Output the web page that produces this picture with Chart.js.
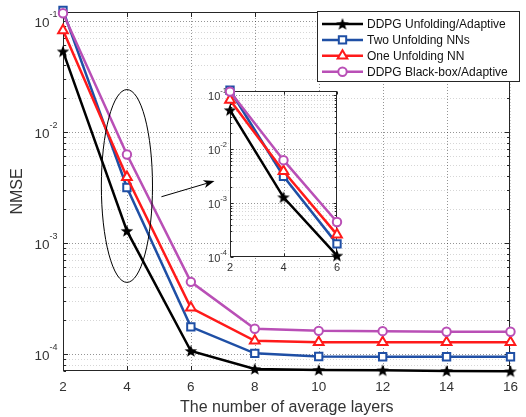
<!DOCTYPE html>
<html>
<head>
<meta charset="utf-8">
<script src="https://cdn.jsdelivr.net/npm/chart.js@4.4.1/dist/chart.umd.min.js"></script>
<style>
html,body{margin:0;padding:0;background:#fff;}
#wrap{position:relative;width:526px;height:417px;overflow:hidden;}
#main{position:absolute;left:0;top:0;}
#inset{position:absolute;left:180px;top:80px;}
</style>
</head>
<body>
<div id="wrap">
<canvas id="main" width="526" height="417"></canvas>
<canvas id="inset" width="165" height="200"></canvas>
</div>
<script>
// ---------------- data ----------------
const layers = [2, 4, 6, 8, 10, 12, 14, 16];
const ddpgUnfolding = [0.053, 1.28e-3, 1.06e-4, 7.3e-5, 7.15e-5, 7.1e-5, 7.0e-5, 6.95e-5];
const twoUnfolding  = [0.124, 3.15e-3, 1.75e-4, 1.01e-4, 9.45e-5, 9.4e-5, 9.4e-5, 9.4e-5];
const oneUnfolding  = [0.082, 3.9e-3, 2.6e-4, 1.31e-4, 1.27e-4, 1.27e-4, 1.27e-4, 1.27e-4];
const ddpgBlackbox  = [0.117, 6.25e-3, 4.45e-4, 1.68e-4, 1.61e-4, 1.6e-4, 1.58e-4, 1.58e-4];
const seriesNames = ['DDPG Unfolding/Adaptive', 'Two Unfolding NNs', 'One Unfolding NN', 'DDPG Black-box/Adaptive'];
const xTicks = [2, 4, 6, 8, 10, 12, 14, 16];
const yDecades = [-4, -3, -2, -1];
const insetLayers = [2, 4, 6];
const insetXTicks = [2, 4, 6];
const insetYDecades = [-4, -3, -2, -1];
const xLabel = 'The number of average layers';
const yLabel = 'NMSE';

// annotation (in data units of the main axes)
const ellipseSpec = {x: 4, xHalf: 0.8, yTop: 0.024, yBottom: 4.4e-4};
const arrowSpec = {x0: 5.08, y0: 2.6e-3, x1: 6.74, y1: 3.6e-3};

// ---------------- styles ----------------
const FONT = '"Liberation Sans", Arial, Helvetica, sans-serif';
Chart.defaults.font.family = FONT;
const COLORS = ['#000000', '#1f4fa5', '#ff1a1a', '#b94fb6'];
const AXIS = '#262626';
const TXT = '#333333';

function makeStar(R) {
  const s = Math.ceil(R * 2 + 2);
  const c = document.createElement('canvas');
  c.width = s; c.height = s;
  const g = c.getContext('2d');
  g.beginPath();
  const r = R * 0.42;
  for (let i = 0; i < 10; i++) {
    const a = -Math.PI / 2 + i * Math.PI / 5;
    const rr = (i % 2) ? r : R;
    g.lineTo(s / 2 + rr * Math.cos(a), s / 2 + rr * Math.sin(a) + 0.5);
  }
  g.closePath();
  g.fillStyle = '#000';
  g.fill();
  return c;
}
const starImg = makeStar(6.6);
const STYLES = [starImg, 'rect', 'triangle', 'circle'];
const RADII = [6, 5.2, 5.6, 4.2];
const ALL = [ddpgUnfolding, twoUnfolding, oneUnfolding, ddpgBlackbox];

function makeDatasets(xs) {
  return ALL.map((arr, i) => ({
    label: seriesNames[i],
    data: xs.map((x, j) => ({x: x, y: arr[j]})),
    borderColor: COLORS[i],
    backgroundColor: '#fff',
    borderWidth: 2.5,
    pointStyle: STYLES[i],
    pointRadius: RADII[i],
    pointBorderWidth: 2,
    pointBorderColor: COLORS[i],
    pointBackgroundColor: '#fff',
    tension: 0,
    clip: false,
    order: 3 - i
  }));
}

// ---------------- helpers ----------------
function drawGrid(chart, xt) {
  const {ctx, chartArea: a, scales: {x, y}} = chart;
  ctx.save();
  ctx.beginPath();
  ctx.rect(a.left, a.top, a.right - a.left, a.bottom - a.top);
  ctx.clip();
  ctx.lineWidth = 1;
  ctx.setLineDash([1, 2]);
  const lo = Math.floor(Math.log10(y.min)), hi = Math.ceil(Math.log10(y.max));
  // minor
  ctx.strokeStyle = 'rgba(0,0,0,0.16)';
  ctx.beginPath();
  for (let d = lo; d <= hi; d++) {
    for (let m = 2; m <= 9; m++) {
      const v = m * Math.pow(10, d);
      if (v < y.min || v > y.max) continue;
      const py = Math.round(y.getPixelForValue(v)) + 0.5;
      ctx.moveTo(a.left, py); ctx.lineTo(a.right, py);
    }
  }
  ctx.stroke();
  // major
  ctx.strokeStyle = 'rgba(0,0,0,0.42)';
  ctx.beginPath();
  for (let d = lo; d <= hi; d++) {
    const v = Math.pow(10, d);
    if (v < y.min || v > y.max) continue;
    const py = Math.round(y.getPixelForValue(v)) + 0.5;
    ctx.moveTo(a.left, py); ctx.lineTo(a.right, py);
  }
  xt.forEach(v => {
    const px = Math.round(x.getPixelForValue(v)) + 0.5;
    ctx.moveTo(px, a.top); ctx.lineTo(px, a.bottom);
  });
  ctx.stroke();
  ctx.restore();
}

function drawFrame(chart, xt, majLen, minLen) {
  const {ctx, chartArea: a, scales: {x, y}} = chart;
  ctx.save();
  ctx.setLineDash([]);
  ctx.strokeStyle = AXIS;
  ctx.lineWidth = 1;
  const L = Math.round(a.left) + 0.5, R = Math.round(a.right) - 0.5;
  const T = Math.round(a.top) + 0.5, B = Math.round(a.bottom) - 0.5;
  ctx.strokeRect(L, T, R - L, B - T);
  ctx.beginPath();
  xt.forEach(v => {
    const px = Math.round(x.getPixelForValue(v)) + 0.5;
    ctx.moveTo(px, B); ctx.lineTo(px, B - majLen);
    ctx.moveTo(px, T); ctx.lineTo(px, T + majLen);
  });
  const lo = Math.floor(Math.log10(y.min)), hi = Math.ceil(Math.log10(y.max));
  for (let d = lo; d <= hi; d++) {
    for (let m = 1; m <= 9; m++) {
      const v = m * Math.pow(10, d);
      if (v < y.min || v > y.max) continue;
      const len = m === 1 ? majLen : minLen;
      const py = Math.round(y.getPixelForValue(v)) + 0.5;
      ctx.moveTo(L, py); ctx.lineTo(L + len, py);
      ctx.moveTo(R, py); ctx.lineTo(R - len, py);
    }
  }
  ctx.stroke();
  ctx.restore();
}

function drawPowLabels(chart, decades, xr, baseSize, expSize, baseDy, expDy) {
  const {ctx, scales: {y}} = chart;
  ctx.save();
  ctx.fillStyle = TXT;
  ctx.textBaseline = 'middle';
  ctx.textAlign = 'left';
  decades.forEach(d => {
    const py = y.getPixelForValue(Math.pow(10, d));
    const e = String(d);
    ctx.font = expSize + 'px ' + FONT;
    const ew = ctx.measureText(e).width;
    ctx.font = baseSize + 'px ' + FONT;
    const bw = ctx.measureText('10').width;
    ctx.fillText('10', xr - ew - bw, py + baseDy);
    ctx.font = expSize + 'px ' + FONT;
    ctx.fillText(e, xr - ew, py + expDy);
  });
  ctx.restore();
}

function drawMarker(ctx, style, px, py, r, color) {
  ctx.save();
  if (typeof style !== 'string') {
    ctx.drawImage(style, px - style.width / 2, py - style.height / 2);
    ctx.restore();
    return;
  }
  ctx.lineWidth = 2;
  ctx.strokeStyle = color;
  ctx.fillStyle = '#fff';
  ctx.beginPath();
  if (style === 'rect') {
    const s = r * Math.SQRT1_2;
    ctx.rect(px - s, py - s, 2 * s, 2 * s);
  } else if (style === 'triangle') {
    for (let k = 0; k < 3; k++) {
      const ang = k * 2 * Math.PI / 3;
      ctx.lineTo(px + Math.sin(ang) * r, py - Math.cos(ang) * r);
    }
    ctx.closePath();
  } else {
    ctx.arc(px, py, r, 0, Math.PI * 2);
  }
  ctx.fill();
  ctx.stroke();
  ctx.restore();
}

function drawLegend(chart) {
  const ctx = chart.ctx;
  ctx.save();
  const bx = 317.5, by = 11.5, bw = 202, bh = 70;
  ctx.fillStyle = '#fff';
  ctx.fillRect(bx, by, bw, bh);
  ctx.strokeStyle = AXIS;
  ctx.lineWidth = 1;
  ctx.strokeRect(bx, by, bw, bh);
  const rowY0 = 24, step = 15.9;
  seriesNames.forEach((name, i) => {
    const ry = rowY0 + i * step;
    ctx.strokeStyle = COLORS[i];
    ctx.lineWidth = 2.5;
    ctx.beginPath();
    ctx.moveTo(322, ry); ctx.lineTo(363, ry);
    ctx.stroke();
    drawMarker(ctx, STYLES[i], 342.5, ry, RADII[i], COLORS[i]);
    ctx.fillStyle = '#111';
    ctx.font = '12px ' + FONT;
    ctx.textBaseline = 'middle';
    ctx.textAlign = 'left';
    ctx.fillText(name, 367, ry + 0.5);
  });
  ctx.restore();
}

function drawAnnotations(chart) {
  const {ctx, scales: {x, y}} = chart;
  ctx.save();
  ctx.strokeStyle = '#000';
  ctx.lineWidth = 1;
  const cx = x.getPixelForValue(ellipseSpec.x);
  const rx = x.getPixelForValue(ellipseSpec.x + ellipseSpec.xHalf) - cx;
  const top = y.getPixelForValue(ellipseSpec.yTop);
  const bot = y.getPixelForValue(ellipseSpec.yBottom);
  ctx.beginPath();
  ctx.ellipse(cx, (top + bot) / 2, rx, (bot - top) / 2, 0, 0, Math.PI * 2);
  ctx.stroke();
  // arrow
  const x0 = x.getPixelForValue(arrowSpec.x0), y0 = y.getPixelForValue(arrowSpec.y0);
  const x1 = x.getPixelForValue(arrowSpec.x1), y1 = y.getPixelForValue(arrowSpec.y1);
  const ang = Math.atan2(y1 - y0, x1 - x0);
  const hl = 11, hw = 4, notch = 8;
  const ux = Math.cos(ang), uy = Math.sin(ang);
  ctx.beginPath();
  ctx.moveTo(x0, y0);
  ctx.lineTo(x1 - ux * notch, y1 - uy * notch);
  ctx.stroke();
  ctx.fillStyle = '#000';
  ctx.beginPath();
  ctx.moveTo(x1, y1);
  ctx.lineTo(x1 - ux * hl - uy * hw, y1 - uy * hl + ux * hw);
  ctx.lineTo(x1 - ux * notch, y1 - uy * notch);
  ctx.lineTo(x1 - ux * hl + uy * hw, y1 - uy * hl - ux * hw);
  ctx.closePath();
  ctx.fill();
  ctx.restore();
}

// ---------------- main chart ----------------
const mainDecor = {
  id: 'mainDecor',
  beforeDraw(chart) {
    const ctx = chart.ctx;
    ctx.save();
    ctx.fillStyle = '#fff';
    ctx.fillRect(0, 0, chart.width, chart.height);
    ctx.restore();
  },
  beforeDatasetsDraw(chart) {
    drawGrid(chart, xTicks);
    drawFrame(chart, xTicks, 4.5, 2.5);
    drawPowLabels(chart, yDecades, 57.5, 13.5, 9, 2.7, -6.3);
  },
  afterDatasetsDraw(chart) {
    drawAnnotations(chart);
    drawLegend(chart);
  }
};

new Chart(document.getElementById('main'), {
  type: 'line',
  data: {datasets: makeDatasets(layers)},
  options: {
    responsive: false,
    animation: false,
    events: [],
    layout: {padding: {left: 0, right: 8, top: 12, bottom: 0}},
    plugins: {legend: {display: false}, tooltip: {enabled: false}},
    scales: {
      x: {
        type: 'linear', min: 2, max: 16,
        afterBuildTicks: s => { s.ticks = xTicks.map(v => ({value: v})); },
        grid: {display: false, drawTicks: false},
        border: {display: false},
        ticks: {font: {size: 13.5}, color: TXT, padding: 8, maxRotation: 0, autoSkip: false},
        title: {display: true, text: xLabel, font: {size: 16, lineHeight: 1.2}, color: TXT, padding: {top: 0, bottom: 0}},
        afterFit: s => { s.height = 46; }
      },
      y: {
        type: 'logarithmic', min: 7e-5, max: 0.12,
        grid: {display: false, drawTicks: false},
        border: {display: false},
        ticks: {display: false},
        title: {display: true, text: yLabel, font: {size: 16, lineHeight: 1.2}, color: TXT, padding: {top: 8, bottom: 0}},
        afterFit: s => { s.width = 63; }
      }
    }
  },
  plugins: [mainDecor]
});

// ---------------- inset chart ----------------
const insetDecor = {
  id: 'insetDecor',
  beforeDraw(chart) {
    const {ctx, chartArea: a} = chart;
    ctx.save();
    ctx.fillStyle = '#fff';
    ctx.fillRect(a.left, a.top, a.right - a.left, a.bottom - a.top);
    ctx.restore();
  },
  beforeDatasetsDraw(chart) {
    drawGrid(chart, insetXTicks);
    drawFrame(chart, insetXTicks, 3, 1.8);
    drawPowLabels(chart, insetYDecades, 47, 11, 7.5, 1.5, -4.5);
  }
};

new Chart(document.getElementById('inset'), {
  type: 'line',
  data: {datasets: makeDatasets(insetLayers)},
  options: {
    responsive: false,
    animation: false,
    events: [],
    layout: {padding: {left: 0, right: 6, top: 11, bottom: 0}},
    plugins: {legend: {display: false}, tooltip: {enabled: false}},
    scales: {
      x: {
        type: 'linear', min: 2, max: 6,
        afterBuildTicks: s => { s.ticks = insetXTicks.map(v => ({value: v})); },
        grid: {display: false, drawTicks: false},
        border: {display: false},
        ticks: {font: {size: 11}, color: TXT, padding: 4, maxRotation: 0, autoSkip: false},
        afterFit: s => { s.height = 23; }
      },
      y: {
        type: 'logarithmic', min: 1e-4, max: 0.12,
        grid: {display: false, drawTicks: false},
        border: {display: false},
        ticks: {display: false},
        afterFit: s => { s.width = 50; }
      }
    }
  },
  plugins: [insetDecor]
});
</script>
</body>
</html>
